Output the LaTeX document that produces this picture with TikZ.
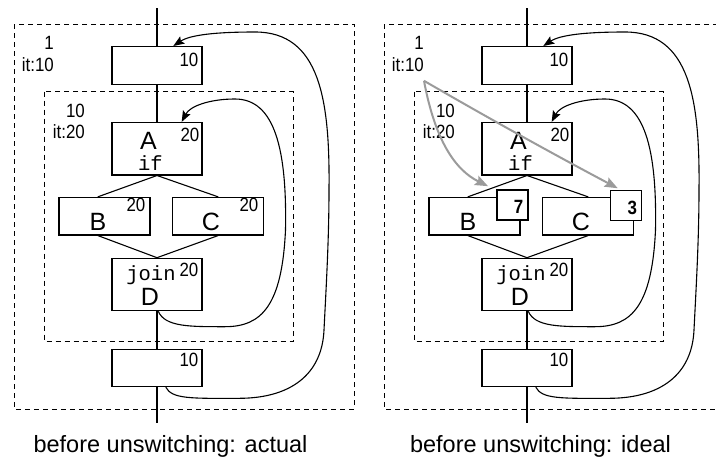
\documentclass[tikz,border=0pt]{standalone}
\usepackage{fontspec}
\setmainfont{Liberation Sans}
\setmonofont{Liberation Mono}
\newfontfamily\condfont[FakeStretch=0.88]{Liberation Sans}
\usetikzlibrary{arrows.meta}
\definecolor{arrowgray}{RGB}{155,155,155}
\tikzset{
  blk/.style={draw, line width=1.1pt, inner sep=0pt, minimum width=90pt},
  shortblk/.style={blk, minimum height=37.5pt},
  tallblk/.style={blk, minimum height=52.5pt},
  loopbox/.style={draw, dash pattern=on 5pt off 4pt, line width=0.9pt},
  cnt/.style={inner sep=0pt, anchor=north east, font=\condfont\fontsize{19.2}{21.5}\selectfont},
  looplabel/.style={cnt, align=right},
  letter/.style={inner sep=0pt, anchor=center, font=\fontsize{25}{30}\selectfont},
  kw/.style={inner sep=0pt, anchor=base, font=\ttfamily\fontsize{20.5}{24}\selectfont},
  flow/.style={line width=1.1pt},
  backedge/.style={line width=1.1pt, -{Stealth[length=11pt,width=8.5pt,inset=2pt]}},
  hint/.style={line width=2pt, color=arrowgray, -{Stealth[length=13pt,width=10pt,inset=2pt]}},
  ibox/.style={draw, fill=white, line width=1.1pt, inner sep=0pt, minimum width=31pt, minimum height=30pt},
  icnt/.style={inner sep=0pt, anchor=north east, font=\condfont\bfseries\fontsize{19.2}{21.5}\selectfont},
  capt/.style={inner sep=0pt, anchor=base, font=\fontsize{23.5}{28}\selectfont},
}
\newcommand\drawpanel[3]{%
  \draw[loopbox] (14,24) rectangle (354,409);
  \draw[loopbox] (44,91.7) rectangle (293.3,341);
  \node[looplabel] (#1lab) at (54,36.5) {1\\it:10};
  \node[looplabel] (#1ilab) at (85,103.5) {10\\it:20};
  \node[shortblk] (#1T) at (157,65.3) {};
  \node[tallblk] (#1A) at (157,148.7) {};
  \node[shortblk, minimum width=91pt] (#1B) at (104.5,216.2) {};
  \node[shortblk, minimum width=91pt] (#1C) at (217.8,216.2) {};
  \node[tallblk] (#1D) at (157,284.5) {};
  \node[shortblk] (#1E) at (157,367.8) {};
  \coordinate (#1in) at (157,8);
  \coordinate (#1out) at (157,423);
  % texts
  \node[cnt] (#1Tn) at ([xshift=-4pt,yshift=-6.5pt]#1T.north east) {10};
  \node[cnt] (#1An) at ([xshift=-3pt,yshift=-5.7pt]#1A.north east) {20};
  \node[letter] (#1Al) at (148.5,141) {A};
  \node[kw] (#1Ak) at (150.5,170) {if};
  \ifnum#3=1
    \node[cnt] (#1Bn) at ([xshift=-5pt,yshift=-1pt]#1B.north east) {20};
    \node[cnt] (#1Cn) at ([xshift=-5.3pt,yshift=-1pt]#1C.north east) {20};
  \fi
  \node[letter] (#1Bl) at (98,221.7) {B};
  \node[letter] (#1Cl) at (211,221.7) {C};
  \node[cnt] (#1Dn) at ([xshift=-4pt,yshift=-4.7pt]#1D.north east) {20};
  \node[kw] (#1Dk) at (151,280) {join};
  \node[letter] (#1Dl) at (150,296.5) {D};
  \node[cnt] (#1En) at ([xshift=-4pt,yshift=-4pt]#1E.north east) {10};
  \node[capt] (#1cap) at (170.5,452) {#2};
  % flow edges
  \draw[flow] (#1in) -- (#1T.north);
  \draw[flow] (#1T.south) -- (#1A.north);
  \draw[flow] (#1A.south) -- ([xshift=-6.8pt]#1B.north);
  \draw[flow] (#1A.south) -- ([xshift=0.5pt]#1C.north);
  \draw[flow] ([xshift=-6.8pt]#1B.south) -- (#1D.north);
  \draw[flow] ([xshift=0.5pt]#1C.south) -- (#1D.north);
  \draw[flow] (#1D.south) -- (#1E.north);
  \draw[flow] (#1E.south) -- (#1out);
  % back edges
  \draw[backedge] ([xshift=8.7pt]#1E.south) .. controls (172,399) and (190,398.5) .. (240,398.3)
     .. controls (290,398) and (322,375) .. (324,330)
     .. controls (326,290) and (329,240) .. (329,190)
     .. controls (330,100) and (320,32) .. (255,32)
     .. controls (215,32) and (190,35) .. ([xshift=16.3pt]#1T.north);
  \draw[backedge] ([xshift=1.3pt]#1D.south) .. controls (165,327) and (190,326.7) .. (225,326.7)
     .. controls (262,326.7) and (282,305) .. (285.5,230)
     .. controls (287,150) and (275,99) .. (235,99)
     .. controls (210,99) and (190,106) .. ([xshift=24.7pt]#1A.north);
}
\begin{document}
\begin{tikzpicture}[x=1pt,y=-1pt]
  \clip (0,0) rectangle (716,458);
  \drawpanel{L}{before unswitching: actual}{1}
  \begin{scope}[xshift=370pt]
    \drawpanel{R}{before unswitching: ideal}{0}
    \node[ibox] (R7) at (142.5,205) {};
    \node[ibox] (R3) at (256.2,205.5) {};
    \node[icnt] (R7n) at ([xshift=-5pt,yshift=-11pt]R7.north east) {7};
    \node[icnt] (R3n) at ([xshift=-5pt,yshift=-11pt]R3.north east) {3};
    \coordinate (Rsrc) at ([yshift=-9pt]Rlab.south east);
    \coordinate (R7tip) at ([xshift=-8.4pt,yshift=3.3pt]R7.north west);
    \coordinate (R3tip) at ([xshift=7.6pt,yshift=1.7pt]R3.north west);
    \draw[hint] (Rsrc) .. controls (65,140) and (85,170) .. (R7tip);
    \draw[hint] (Rsrc) .. controls (120,119) and (185,155) .. (R3tip);
  \end{scope}
\end{tikzpicture}
\end{document}
